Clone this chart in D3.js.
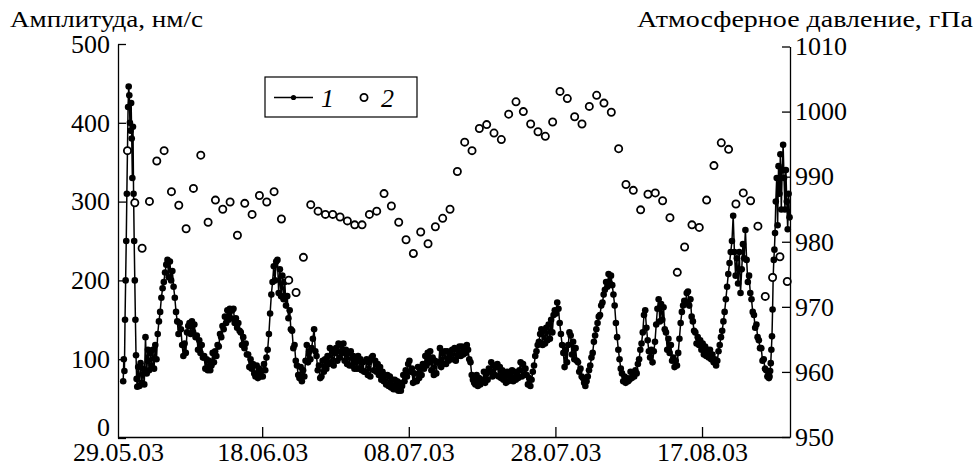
<!DOCTYPE html>
<html>
<head>
<meta charset="utf-8">
<script src="https://cdn.jsdelivr.net/npm/d3@7"></script>
<style>
  body { margin: 0; background: #fff; }
  svg { display: block; }
</style>
</head>
<body>
<svg id="chart" width="977" height="471"></svg>
<script>
// ================================
// DATA
// ================================

// curve 1: amplitude, nm/s. one array per day from 30.05.03,
// readings in a day are spread evenly over that day
const ampStart = "2003-05-30";
const amplitude = [
  [72, 100, 85, 150, 200, 250, 310, 365, 420, 446, 435, 400],
  [390, 425, 380, 330, 395, 310, 250, 200, 150, 105, 75, 65],
  [90, 66, 95, 70, 88, 68], [128, 82, 112, 86, 108, 92], [112, 88, 118, 100, 132, 148],
  [160, 178, 190, 198, 210, 220], [226, 204, 224, 200, 212, 192], [178, 160, 148, 132, 146, 138],
  [118, 104, 120, 108, 134, 142], [146, 132, 148, 134, 144, 128], [130, 112, 124, 108, 118, 102],
  [104, 88, 100, 86, 98, 86], [92, 108, 96, 110, 104, 118], [116, 132, 128, 142, 138, 154],
  [146, 162, 150, 164, 152, 162], [164, 146, 152, 140, 146, 136], [134, 118, 128, 114, 120, 106],
  [106, 90, 100, 88, 94, 82], [78, 92, 76, 88, 78, 86], [78, 94, 86, 102, 112, 132],
  [158, 182, 198, 218, 200, 224], [226, 184, 214, 180, 206, 176], [198, 168, 180, 152, 162, 138],
  [136, 114, 118, 98, 92, 80], [76, 90, 72, 86, 78, 98], [118, 96, 110, 100, 114, 126],
  [138, 110, 104, 86, 92, 76], [78, 98, 84, 100, 88, 104], [94, 114, 96, 110, 92, 108],
  [114, 98, 120, 102, 118, 108], [120, 98, 112, 94, 108, 92], [110, 92, 104, 88, 100, 88],
  [104, 88, 100, 86, 96, 84], [84, 100, 80, 96, 78, 102], [104, 86, 98, 84, 94, 80],
  [90, 74, 84, 72, 80, 68], [80, 66, 78, 64, 74, 62], [74, 62, 72, 60, 70, 60],
  [66, 80, 72, 86, 78, 94], [98, 84, 88, 70, 82, 72], [72, 90, 76, 88, 80, 94],
  [88, 104, 92, 108, 96, 110], [86, 102, 80, 98, 82, 96], [96, 114, 90, 108, 94, 110],
  [94, 110, 98, 108, 100, 112], [100, 114, 98, 112, 104, 116], [104, 116, 106, 114, 108, 118],
  [112, 100, 96, 80, 74, 70], [68, 80, 66, 76, 68, 74], [72, 84, 70, 82, 74, 88],
  [84, 96, 78, 92, 80, 90], [94, 78, 90, 76, 86, 74], [80, 70, 84, 72, 82, 76],
  [86, 72, 84, 74, 82, 76], [86, 96, 78, 94, 80, 88], [80, 68, 76, 66, 74, 84],
  [92, 104, 110, 118, 122, 132], [138, 118, 136, 120, 140, 124], [144, 126, 150, 134, 156, 162],
  [158, 172, 164, 146, 132, 118], [108, 90, 112, 96, 118, 134], [130, 106, 122, 100, 114, 98],
  [96, 84, 88, 78, 76, 70], [66, 72, 78, 86, 92, 102], [108, 122, 130, 138, 146, 154],
  [156, 168, 172, 182, 188, 198], [192, 208, 196, 206, 194, 182], [168, 146, 128, 112, 100, 88],
  [82, 72, 78, 70, 76, 72], [74, 84, 76, 82, 78, 86], [82, 94, 100, 112, 120, 134],
  [156, 162, 140, 124, 110, 102], [112, 96, 110, 122, 144, 164], [176, 148, 170, 150, 166, 138],
  [134, 112, 126, 108, 118, 98], [102, 90, 98, 92, 108, 126], [146, 160, 168, 174, 172, 184],
  [186, 168, 176, 154, 148, 136], [134, 120, 128, 118, 124, 112], [120, 106, 116, 104, 112, 102],
  [112, 100, 106, 96, 100, 92], [98, 110, 118, 128, 136, 148], [160, 176, 192, 208, 222, 236],
  [250, 282, 236, 206, 228, 196], [236, 184, 214, 246, 228, 264], [226, 198, 206, 184, 176, 160],
  [156, 140, 144, 128, 124, 114], [114, 98, 100, 88, 86, 78],
  [80, 76, 78, 85, 95, 112, 129, 163, 205, 226, 239, 260],
  [300, 330, 270, 345, 310, 360, 290, 340],
  [372, 330, 290, 340, 300, 265, 310, 280]
];

// curve 2: atmospheric pressure, hPa, one reading a day from 30.05.03
const pressureStart = "2003-05-30";
const pressureHour = 15;
const pressure = [
  994.0, 986.0,
  979.0, 986.2, 992.4, 994.0, 987.7, 985.6, 982.0, 988.2, 993.3, 983.0,
  986.4, 985.0, 986.1, 981.0, 985.9, 984.2, 987.1, 986.1, 987.7, 983.5,
  974.1, 972.2, 977.6, 985.7, 984.7, 984.2, 984.2, 983.8, 983.2, 982.6,
  982.6, 984.2, 984.7, 987.4, 985.5, 983.0, 980.3, 978.2, 981.5, 979.7,
  982.3, 983.6, 985.0, 990.8, 995.3, 994.0, 997.4, 998.0, 996.7, 995.7,
  999.6, 1001.5, 1000.0, 998.1, 996.9, 996.2, 998.4, 1003.1, 1002.0, 999.2, 998.1,
  1000.8, 1002.5, 1001.3, 999.9, 994.3, 988.8, 987.9, 984.9, 987.3, 987.5,
  986.3, 983.7, 975.3, 979.2, 982.6, 982.2, 986.4, 991.7, 995.2, 994.2,
  985.8, 987.5, 986.3, 982.4, 971.6, 974.5, 977.7, 973.9
];

const xDomain = ["2003-05-29T08:00Z", "2003-08-29T00:00Z"];
const dateTicks = ["2003-05-29T08:00Z", "2003-06-18T00:00Z", "2003-07-08T00:00Z",
                   "2003-07-28T00:00Z", "2003-08-17T00:00Z"];
const ampTicks = [0, 100, 200, 300, 400, 500];
const pressureTicks = [950, 960, 970, 980, 990, 1000, 1010];
const legendLabels = ["1", "2"];
const ampTitle = "Амплитуда, нм/с";
const pressureTitle = "Атмосферное давление, гПа";

// ================================
// SETUP
// ================================
const DAY = 864e5;
const font = "\"Liberation Serif\", \"Times New Roman\", serif";

const svg = d3.select("#chart");

const x = d3.scaleUtc().domain(xDomain.map(d3.isoParse)).range([118, 790]);
const yAmp = d3.scaleLinear().domain([0, 500]).range([438, 44]);
const yP = d3.scaleLinear().domain([950, 1010]).range([437, 46.5]);

const a0 = +d3.isoParse(ampStart + "T00:00Z");
const ampPoints = amplitude.flatMap((vals, i) =>
  vals.map((v, k) => ({ t: new Date(a0 + (i + (k + 0.5) / vals.length) * DAY), v })));

const p0 = +d3.isoParse(pressureStart + "T00:00Z");
const pPoints = pressure.map((p, i) => ({ t: new Date(p0 + i * DAY + pressureHour * 36e5), p }));

// ================================
// AXES
// ================================
const styleAxis = g => {
  g.attr("font-size", 26).style("font-family", font);
  g.selectAll("path, line").attr("stroke", "#000").attr("stroke-width", 1.3);
  g.selectAll("text").attr("fill", "#000");
};

svg.append("g")
  .attr("transform", "translate(118,0)")
  .call(d3.axisLeft(yAmp).tickValues(ampTicks).tickSizeInner(-8).tickSizeOuter(0).tickPadding(8))
  .call(styleAxis)
  // the zero label sits a bit higher than its tick, clear of the dates
  .call(g => g.selectAll(".tick text").filter(d => d === 0).attr("dy", "-0.08em"));

svg.append("g")
  .attr("transform", "translate(790,0)")
  .call(d3.axisRight(yP).tickValues(pressureTicks).tickFormat(d3.format("d"))
    .tickSizeInner(-8).tickSizeOuter(0).tickPadding(5))
  .call(styleAxis);

svg.append("g")
  .attr("transform", "translate(0,437)")
  .call(d3.axisBottom(x).tickValues(dateTicks.map(d3.isoParse))
    .tickFormat(d3.utcFormat("%d.%m.%y")).tickSizeInner(-10).tickSizeOuter(0).tickPadding(6))
  .call(styleAxis)
  .call(g => g.selectAll(".tick").filter((d, i) => i === 0).select("line").remove());

// titles (the original face is wider than Liberation Serif, so stretch to its width)
svg.append("text")
  .attr("x", 10).attr("y", 27)
  .attr("font-size", 23)
  .attr("textLength", 193).attr("lengthAdjust", "spacingAndGlyphs")
  .style("font-family", font)
  .text(ampTitle);

svg.append("text")
  .attr("x", 637).attr("y", 27)
  .attr("font-size", 23)
  .attr("textLength", 336).attr("lengthAdjust", "spacingAndGlyphs")
  .style("font-family", font)
  .text(pressureTitle);

// ================================
// CURVE 1
// ================================
svg.append("path")
  .datum(ampPoints)
  .attr("d", d3.line().x(d => x(d.t)).y(d => yAmp(d.v)))
  .attr("fill", "none")
  .attr("stroke", "#000")
  .attr("stroke-width", 1.5);

svg.append("g")
  .selectAll("circle")
  .data(ampPoints)
  .join("circle")
  .attr("cx", d => x(d.t))
  .attr("cy", d => yAmp(d.v))
  .attr("r", 3.3)
  .attr("fill", "#000");

// ================================
// CURVE 2
// ================================
svg.append("g")
  .selectAll("circle")
  .data(pPoints)
  .join("circle")
  .attr("cx", d => x(d.t))
  .attr("cy", d => yP(d.p))
  .attr("r", 3.6)
  .attr("fill", "#fff")
  .attr("stroke", "#000")
  .attr("stroke-width", 1.8);

// ================================
// LEGEND
// ================================
const lg = svg.append("g");
lg.append("rect")
  .attr("x", 265).attr("y", 77).attr("width", 152).attr("height", 40)
  .attr("fill", "#fff").attr("stroke", "#000").attr("stroke-width", 1.2);
lg.append("line")
  .attr("x1", 274).attr("x2", 313).attr("y1", 97.5).attr("y2", 97.5)
  .attr("stroke", "#000").attr("stroke-width", 1.4);
lg.append("circle").attr("cx", 293.5).attr("cy", 97.5).attr("r", 2.6).attr("fill", "#000");
lg.append("circle").attr("cx", 364).attr("cy", 97.5).attr("r", 3.6)
  .attr("fill", "#fff").attr("stroke", "#000").attr("stroke-width", 1.8);
lg.selectAll("text.lbl")
  .data(legendLabels)
  .join("text")
  .attr("class", "lbl")
  .attr("x", (d, i) => i === 0 ? 321 : 381)
  .attr("y", 107)
  .attr("font-size", 26).attr("font-style", "italic")
  .style("font-family", font)
  .text(d => d);
</script>
</body>
</html>
